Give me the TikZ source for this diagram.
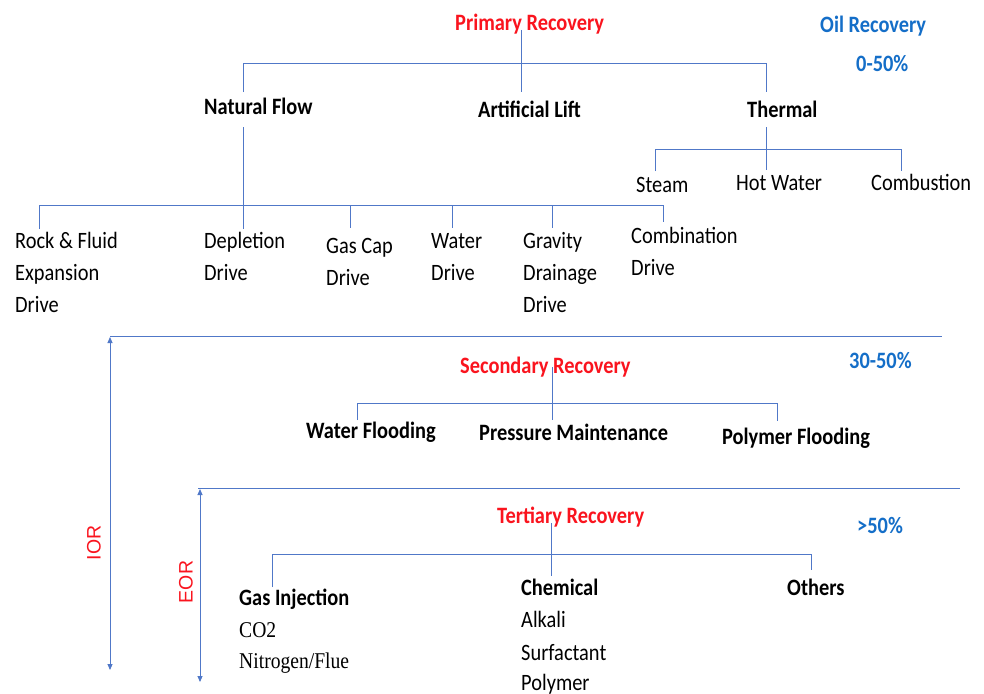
\documentclass[tikz,border=0pt]{standalone}
\usepackage{fontspec}
\usepackage{graphicx}
\setmainfont{Carlito}
\newfontfamily\serifft{Liberation Serif}
\newfontfamily\arialft{Liberation Sans}
\usetikzlibrary{arrows.meta}
\definecolor{linec}{RGB}{80,120,200}
\definecolor{redt}{RGB}{250,20,30}
\definecolor{bluet}{RGB}{20,110,200}
\newcommand{\vs}[1]{\scalebox{1}[1.15]{#1}}
\begin{document}
\begin{tikzpicture}[x=1pt,y=-1pt,
  lbl/.style={inner sep=0pt, anchor=base west, font=\fontsize{20.4}{24}\selectfont},
  blbl/.style={inner sep=0pt, anchor=base west, font=\fontsize{20.4}{24}\selectfont\bfseries},
  rlbl/.style={blbl, text=redt},
  pct/.style={blbl, text=bluet},
  slbl/.style={inner sep=0pt, anchor=base west, font=\fontsize{19.6}{24}\serifft},
  vlbl/.style={inner sep=0pt, rotate=90, text=redt, font=\fontsize{19.5}{24}\arialft},
  conn/.style={draw=linec, line width=0.9pt},
  dimarr/.style={draw=linec, line width=0.9pt, {Triangle[length=6pt,width=5pt]}-{Triangle[length=6pt,width=5pt]}, color=linec}]
\useasboundingbox[fill=white] (0,0) rectangle (984,693);

% ---------- Primary ----------
\node[rlbl] (prim) at (455,31) {\vs{Primary Recovery}};
\node[pct] (oil) at (820,33) {\vs{Oil Recovery}};
\node[pct] (p1) at (856,71) {\vs{0-50\%}};
\node[blbl] (nat) at (204,114) {\vs{Natural Flow}};
\node[blbl] (art) at (478,117) {\vs{Artificial Lift}};
\node[blbl] (therm) at (747,117) {\vs{Thermal}};
\node[lbl] (steam) at (636,192) {\vs{Steam}};
\node[lbl] (hot) at (736,190) {\vs{Hot Water}};
\node[lbl] (comb) at (871,190) {\vs{Combustion}};
\node[lbl] (rf1) at (15,248) {\vs{Rock \& Fluid}};
\node[lbl] (rf2) at (15,280) {\vs{Expansion}};
\node[lbl] (rf3) at (15,312) {\vs{Drive}};
\node[lbl] (dep1) at (204,248) {\vs{Depletion}};
\node[lbl] (dep2) at (204,280) {\vs{Drive}};
\node[lbl] (gc1) at (326,253) {\vs{Gas Cap}};
\node[lbl] (gc2) at (326,285) {\vs{Drive}};
\node[lbl] (wd1) at (431,248) {\vs{Water}};
\node[lbl] (wd2) at (431,280) {\vs{Drive}};
\node[lbl] (gd1) at (523,248) {\vs{Gravity}};
\node[lbl] (gd2) at (523,280) {\vs{Drainage}};
\node[lbl] (gd3) at (523,312) {\vs{Drive}};
\node[lbl] (cd1) at (631,243) {\vs{Combination}};
\node[lbl] (cd2) at (631,275) {\vs{Drive}};

\coordinate (pTop) at (521,30);
\coordinate (pMid) at (521,63);
\coordinate (pArt) at (521,92);
\coordinate (pL) at (243,63);
\coordinate (pLd) at (243,92);
\coordinate (pR) at (766,63);
\coordinate (pRd) at (766,92);
\draw[conn] (pTop) -- (pArt);
\draw[conn] (pLd) -- (pL) -- (pR) -- (pRd);

\coordinate (nTop) at (243,127);
\coordinate (nBus) at (243,205);
\coordinate (nDep) at (243,229);
\coordinate (nL) at (39,205);
\coordinate (nLd) at (39,229);
\coordinate (nR) at (663,205);
\coordinate (nRd) at (663,222);
\coordinate (nG) at (350,205);
\coordinate (nGd) at (350,228);
\coordinate (nW) at (452,205);
\coordinate (nWd) at (452,228);
\coordinate (nV) at (552,205);
\coordinate (nVd) at (552,228);
\draw[conn] (nTop) -- (nDep);
\draw[conn] (nLd) -- (nL) -- (nR) -- (nRd);
\draw[conn] (nG) -- (nGd);
\draw[conn] (nW) -- (nWd);
\draw[conn] (nV) -- (nVd);

\coordinate (tTop) at (766,127);
\coordinate (tHot) at (766,170);
\coordinate (tL) at (655,149);
\coordinate (tLd) at (655,171);
\coordinate (tR) at (901,149);
\coordinate (tRd) at (901,171);
\draw[conn] (tTop) -- (tHot);
\draw[conn] (tLd) -- (tL) -- (tR) -- (tRd);

% ---------- Secondary ----------
\coordinate (iorL) at (110,336);
\coordinate (iorR) at (942,336);
\coordinate (iorA) at (110,337);
\coordinate (iorB) at (110,670);
\draw[conn] (iorL) -- (iorR);
\draw[dimarr] (iorA) -- (iorB);
\node[vlbl] (ior) at (94,543) {IOR};

\node[rlbl] (sec) at (460,373) {\vs{Secondary Recovery}};
\node[pct] (p2) at (849,368) {\vs{30-50\%}};
\node[blbl] (wf) at (306,438) {\vs{Water Flooding}};
\node[blbl] (pm) at (479,440) {\vs{Pressure Maintenance}};
\node[blbl] (pf) at (722,444) {\vs{Polymer Flooding}};

\coordinate (sTop) at (552,367);
\coordinate (sPm) at (552,420);
\coordinate (sL) at (357,403);
\coordinate (sLd) at (357,420);
\coordinate (sR) at (777,403);
\coordinate (sRd) at (777,421);
\draw[conn] (sTop) -- (sPm);
\draw[conn] (sLd) -- (sL) -- (sR) -- (sRd);

% ---------- Tertiary ----------
\coordinate (eorL) at (198,488);
\coordinate (eorR) at (960,488);
\coordinate (eorA) at (200,489);
\coordinate (eorB) at (200,682);
\draw[conn] (eorL) -- (eorR);
\draw[dimarr] (eorA) -- (eorB);
\node[vlbl] (eor) at (186,582) {EOR};

\node[rlbl] (ter) at (497,523) {\vs{Tertiary Recovery}};
\node[pct] (p3) at (857,533) {\vs{>50\%}};
\node[blbl] (gi) at (239,605) {\vs{Gas Injection}};
\node[slbl] (co2) at (239,637) {\vs{CO2}};
\node[slbl] (nit) at (239,668) {\vs{Nitrogen/Flue}};
\node[blbl] (ch) at (521,595) {\vs{Chemical}};
\node[lbl] (al) at (521,627) {\vs{Alkali}};
\node[lbl] (sf) at (521,660) {\vs{Surfactant}};
\node[lbl] (po) at (521,690) {\vs{Polymer}};
\node[blbl] (oth) at (787,595) {\vs{Others}};

\coordinate (rTop) at (551,523);
\coordinate (rCh) at (551,576);
\coordinate (rL) at (272,554);
\coordinate (rLd) at (272,587);
\coordinate (rR) at (811,554);
\coordinate (rRd) at (811,570);
\draw[conn] (rTop) -- (rCh);
\draw[conn] (rLd) -- (rL) -- (rR) -- (rRd);
\end{tikzpicture}
\end{document}
